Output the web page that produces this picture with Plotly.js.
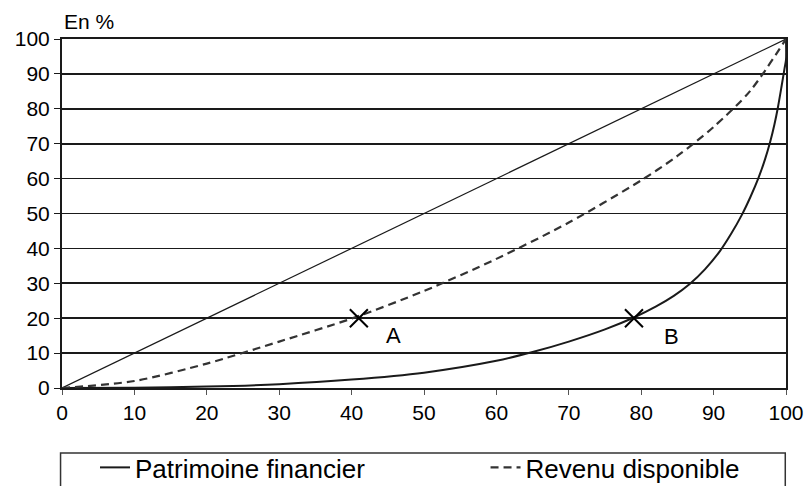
<!DOCTYPE html>
<html>
<head>
<meta charset="utf-8">
<script src="https://cdn.plot.ly/plotly-3.0.1.min.js"></script>
<style>html,body{margin:0;padding:0;background:#fff;}#chart{width:807px;height:486px;}</style>
</head>
<body>
<div id="chart"></div>
<script>
// Diagonal (égalité parfaite)
const diagX = [0, 100];
const diagY = [0, 100];
// Patrimoine financier (courbe de Lorenz)
const patX = [0, 10, 20, 30, 40, 50, 60, 65, 70, 75, 79, 82, 84.5, 86.7, 88.8, 90.9, 92.4, 93.9, 95.1, 96.2, 97.1, 97.8, 98.4, 98.9, 99.4, 99.8, 100, 100];
const patY = [0, 0.1, 0.4, 1.1, 2.4, 4.4, 7.8, 10.3, 13.3, 16.8, 20.2, 23.3, 26.4, 29.8, 34.0, 39.3, 44.1, 49.6, 54.8, 60.2, 65.5, 70.4, 75.5, 80.6, 86.6, 91.6, 94, 100];
// Revenu disponible (courbe de Lorenz)
const revX = [0, 10, 20, 30, 40, 50, 60, 70, 80, 85, 90, 95, 100];
const revY = [0, 2, 7, 13.3, 19.9, 27.8, 37, 47.4, 59.5, 66.5, 74.8, 85, 100];
// Points repérés
const ptX = [41, 79];
const ptY = [20, 20];
const ptLabels = ['A', 'B'];
const ptLabelX = [45.8, 84.2];
const ptLabelY = [15, 14.7];
// Ticks
const xTicks = [0, 10, 20, 30, 40, 50, 60, 70, 80, 90, 100];
const yTicks = [0, 10, 20, 30, 40, 50, 60, 70, 80, 90, 100];
const seriesNames = ['Patrimoine financier', 'Revenu disponible'];

const ink = '#1a1a1a';
const traces = [
  {x: diagX, y: diagY, mode: 'lines', line: {color: ink, width: 1.2}, showlegend: false, hoverinfo: 'skip'},
  {x: patX, y: patY, mode: 'lines', name: seriesNames[0], legend: 'legend', line: {color: ink, width: 2, shape: 'spline', smoothing: 0.8}},
  {x: revX, y: revY, mode: 'lines', name: seriesNames[1], legend: 'legend2', line: {color: '#333', width: 2.2, dash: '8px,5px', shape: 'spline', smoothing: 0.8}},
  {x: ptX, y: ptY, mode: 'markers', showlegend: false, marker: {symbol: 'x-thin', size: 18, line: {color: '#000', width: 2}}, hoverinfo: 'skip'}
];

const annotations = ptLabels.map((t, i) => ({
  x: ptLabelX[i], y: ptLabelY[i], xref: 'x', yref: 'y', text: t, showarrow: false,
  font: {family: 'Liberation Sans, Arial, sans-serif', size: 22, color: '#000'}
}));
annotations.push({
  x: 0, y: 1, xref: 'paper', yref: 'paper', xanchor: 'left', yanchor: 'bottom', yshift: 4,
  text: 'En %', showarrow: false,
  font: {family: 'Liberation Sans, Arial, sans-serif', size: 21, color: '#000'}
});

const legendFont = {family: 'Liberation Sans, Arial, sans-serif', size: 26, color: '#000'};
const layout = {
  width: 807, height: 486,
  margin: {l: 62, r: 21, t: 39, b: 98, autoexpand: false},
  paper_bgcolor: '#ffffff', plot_bgcolor: '#ffffff',
  font: {family: 'Liberation Sans, Arial, sans-serif', color: '#000'},
  xaxis: {
    range: [0, 100], tickvals: xTicks, ticktext: xTicks.map(String),
    showgrid: false, zeroline: false, showline: true, linecolor: ink, linewidth: 2, mirror: true,
    ticks: 'outside', ticklen: 5, tickcolor: '#555', tickfont: {size: 21, color: '#000'}
  },
  yaxis: {
    range: [0, 100], tickvals: yTicks, ticktext: yTicks.map(String),
    showgrid: true, gridcolor: ink, gridwidth: 1.6, zeroline: false,
    showline: true, linecolor: ink, linewidth: 2, mirror: true,
    ticks: 'outside', ticklen: 6, tickcolor: ink, tickfont: {size: 21, color: '#000'}
  },
  showlegend: true,
  legend: {
    orientation: 'h', x: 0.0456, xanchor: 'left', y: -0.1604, yanchor: 'top',
    bgcolor: 'rgba(0,0,0,0)', borderwidth: 0, font: legendFont
  },
  legend2: {
    orientation: 'h', x: 0.585, xanchor: 'left', y: -0.1604, yanchor: 'top',
    bgcolor: 'rgba(0,0,0,0)', borderwidth: 0, font: legendFont
  },
  shapes: [{
    type: 'rect', xref: 'paper', yref: 'paper', x0: -0.002, x1: 0.999, y0: -0.186, y1: -0.5,
    line: {color: '#333', width: 1.5}, fillcolor: 'rgba(0,0,0,0)'
  }],
  annotations: annotations
};

Plotly.newPlot('chart', traces, layout, {displayModeBar: false, staticPlot: true});
</script>
</body>
</html>
